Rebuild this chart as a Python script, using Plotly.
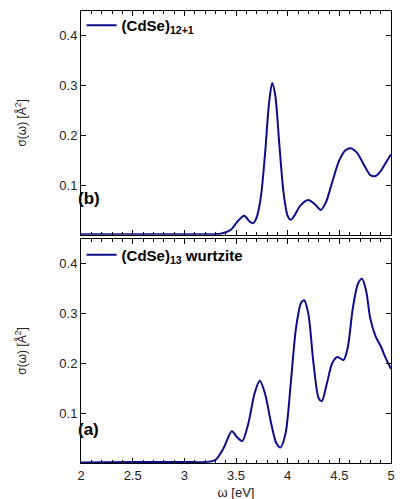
import plotly.graph_objects as go

# photo-absorption cross section
omega_b = [2.0, 2.5, 3.0, 3.2, 3.35, 3.45, 3.52, 3.58, 3.63, 3.665, 3.7, 3.74, 3.78,
           3.82, 3.85, 3.88, 3.92, 3.96, 4.0, 4.03, 4.07, 4.12, 4.2, 4.27, 4.32,
           4.37, 4.43, 4.5, 4.56, 4.61, 4.67, 4.74, 4.8, 4.85, 4.9, 4.95, 5.0]
sigma_b = [0.001, 0.001, 0.001, 0.001, 0.002, 0.01, 0.028, 0.038, 0.027, 0.023, 0.035,
           0.075, 0.16, 0.265, 0.305, 0.28, 0.18, 0.085, 0.038, 0.03, 0.04, 0.058,
           0.07, 0.06, 0.05, 0.065, 0.105, 0.15, 0.17, 0.174, 0.165, 0.14, 0.12,
           0.118, 0.128, 0.145, 0.162]

omega_a = [2.0, 2.5, 3.0, 3.2, 3.3, 3.38, 3.46, 3.51, 3.56, 3.62, 3.68, 3.73, 3.78,
           3.84, 3.89, 3.93, 3.98, 4.03, 4.08, 4.13, 4.16, 4.2, 4.25, 4.3, 4.33,
           4.38, 4.43, 4.48, 4.54, 4.58, 4.63, 4.68, 4.72, 4.76, 4.8, 4.85, 4.9,
           4.95, 5.0]
sigma_a = [0.001, 0.002, 0.002, 0.002, 0.006, 0.03, 0.064, 0.052, 0.044, 0.08, 0.14,
           0.165, 0.14, 0.08, 0.04, 0.031, 0.06, 0.16, 0.27, 0.322, 0.327, 0.3, 0.2,
           0.13, 0.124, 0.16, 0.2, 0.213, 0.207, 0.23, 0.31, 0.36, 0.37, 0.345,
           0.29, 0.255, 0.235, 0.21, 0.189]

name_b = "<b>(CdSe)<sub>12+1</sub></b>"
name_a = "<b>(CdSe)<sub>13</sub> wurtzite</b>"
y_ticks = [0.1, 0.2, 0.3, 0.4]
x_ticks = [2, 2.5, 3, 3.5, 4, 4.5, 5]

navy = "#0c0c8a"
font = "Liberation Sans, Arial, sans-serif"

fig = go.Figure()
fig.add_trace(go.Scatter(x=omega_b, y=sigma_b, name=name_b, mode="lines",
                         line=dict(color=navy, width=2, shape="spline", smoothing=0.8),
                         xaxis="x2", yaxis="y2", legend="legend"))
fig.add_trace(go.Scatter(x=omega_a, y=sigma_a, name=name_a, mode="lines",
                         line=dict(color=navy, width=2, shape="spline", smoothing=0.8),
                         xaxis="x", yaxis="y", legend="legend2"))

axis_common = dict(showline=True, mirror="ticks", linecolor="black", linewidth=1,
                   ticks="inside", tickcolor="black", ticklen=5, showgrid=False,
                   zeroline=False, tickfont=dict(size=13, color="#222"))
minor_x = dict(dtick=0.1, ticks="inside", ticklen=3, tickcolor="black", showgrid=False)
y_title = dict(text="σ(ω) [Å<sup>2</sup>]", font=dict(size=12), standoff=30)

fig.update_layout(
    width=409, height=499,
    margin=dict(l=73, r=26, t=1, b=44),
    paper_bgcolor="white", plot_bgcolor="white",
    font=dict(family=font, color="#222"),
    showlegend=True,
    xaxis=dict(range=[2, 5], tickvals=x_ticks, ticktext=[str(v) for v in x_ticks],
               minor=minor_x,
               title=dict(text="ω [eV]", font=dict(size=13), standoff=6),
               anchor="y", **axis_common),
    yaxis=dict(range=[0, 0.45], tickvals=y_ticks, domain=[0, 0.4956],
               title=y_title, anchor="x", **axis_common),
    xaxis2=dict(range=[2, 5], tickvals=x_ticks, showticklabels=False,
                minor=minor_x, anchor="y2", **axis_common),
    yaxis2=dict(range=[0, 0.45], tickvals=y_ticks, domain=[0.505, 1],
                title=y_title, anchor="x2", **axis_common),
    legend=dict(x=0.002, y=0.968, xanchor="left", yanchor="middle",
                bgcolor="rgba(0,0,0,0)",
                font=dict(size=15, color="black")),
    legend2=dict(x=0.002, y=0.46, xanchor="left", yanchor="middle",
                 bgcolor="rgba(0,0,0,0)",
                 font=dict(size=15, color="black")),
)

fig.add_annotation(text="<b>(b)</b>", xref="x2 domain", yref="y2 domain",
                   x=-0.016, y=0.16, xanchor="left", yanchor="middle", showarrow=False,
                   font=dict(size=17, color="black"))
fig.add_annotation(text="<b>(a)</b>", xref="x domain", yref="y domain",
                   x=-0.016, y=0.15, xanchor="left", yanchor="middle", showarrow=False,
                   font=dict(size=17, color="black"))

fig.write_html("out.html")
